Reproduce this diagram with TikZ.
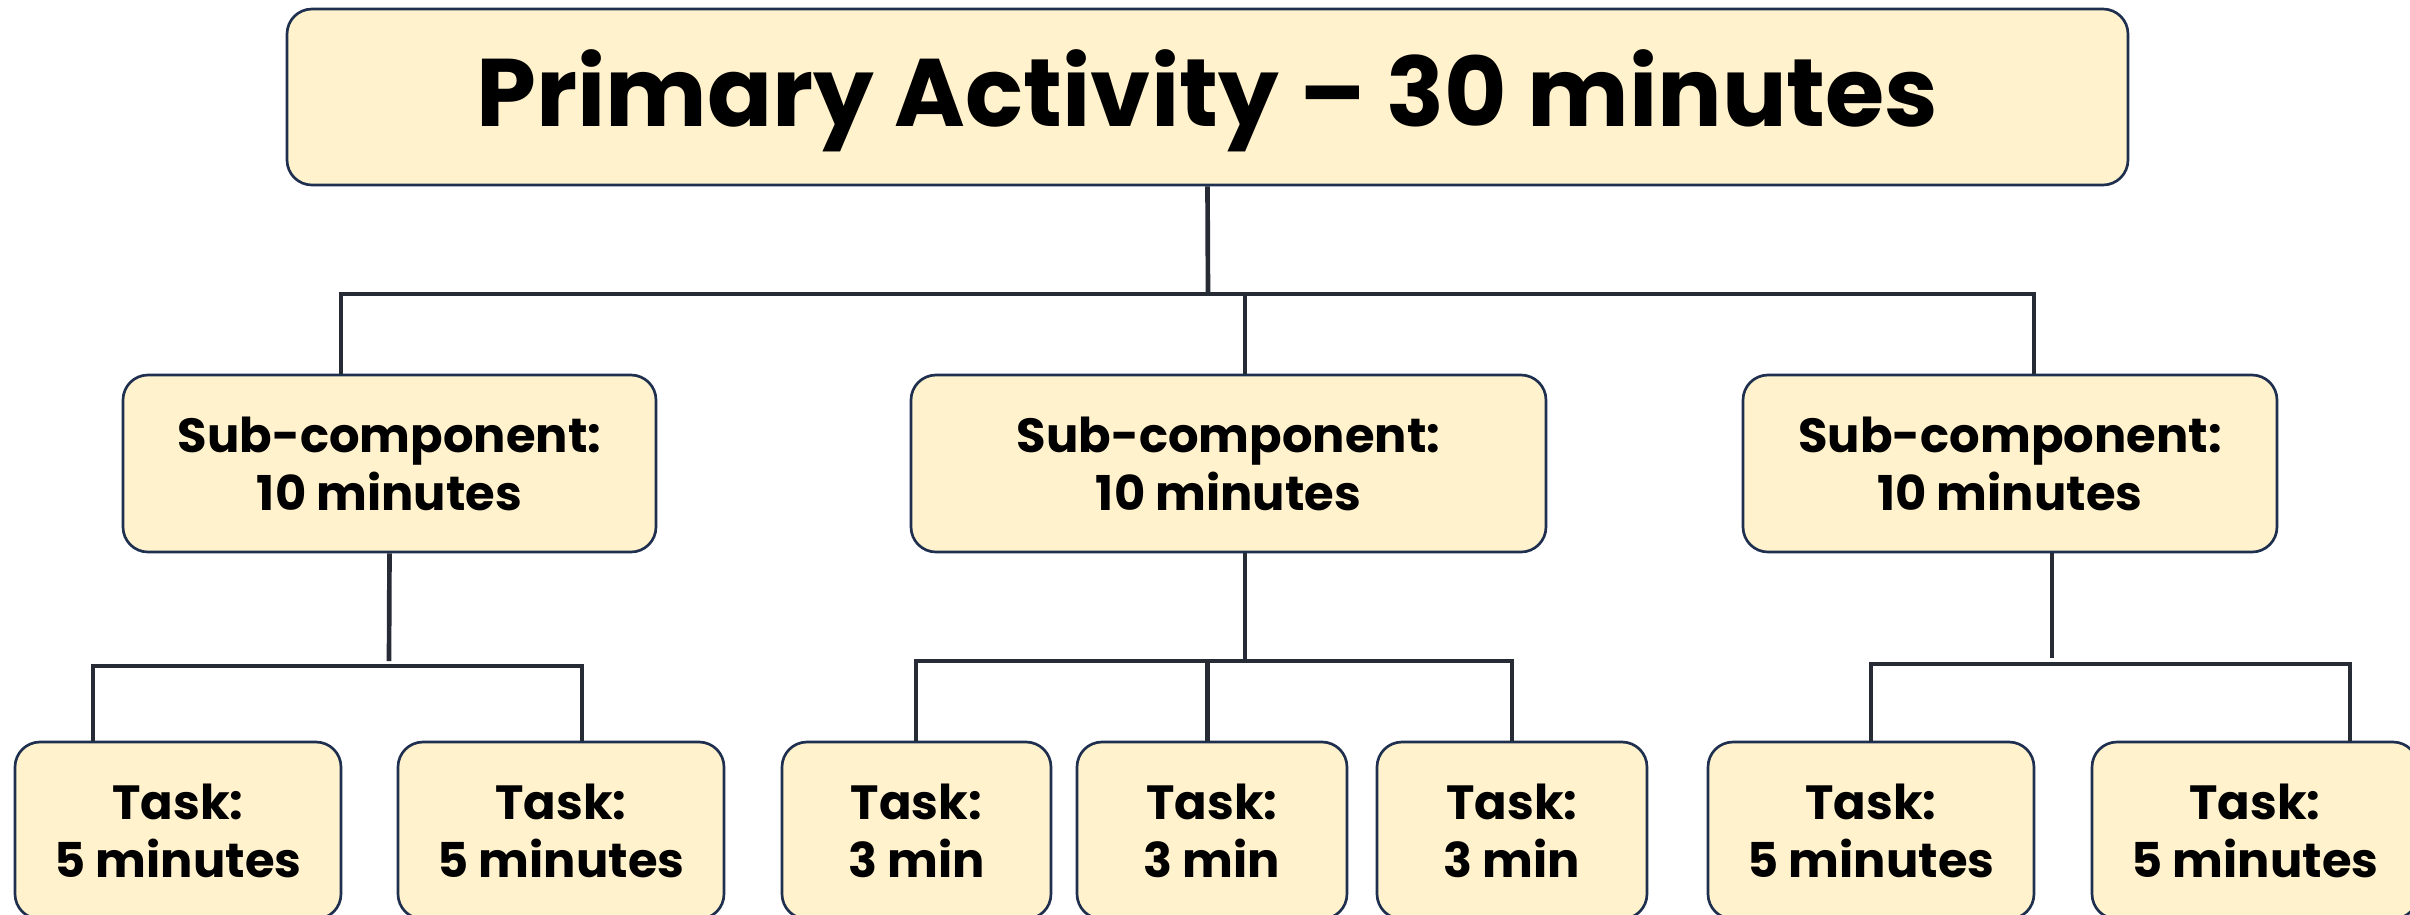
\documentclass[tikz,border=0pt]{standalone}
\usepackage{fontspec}
\setmainfont{Poppins}
\definecolor{boxfill}{HTML}{FFF2CC}
\definecolor{boxline}{HTML}{1E2F4F}
\definecolor{linkc}{HTML}{262B36}
\begin{document}
\begin{tikzpicture}[x=0.3pt,y=-0.3pt,
  box/.style={draw=boxline, line width=0.8pt, fill=boxfill, rounded corners=7.5pt,
    align=center, inner sep=0pt, minimum height=53.1pt,
    font=\bfseries\fontsize{14.4}{17.4}\selectfont},
  titlebox/.style={box, minimum width=552.3pt, minimum height=52.8pt,
    font=\bfseries\fontsize{28.8}{34}\selectfont},
  subbox/.style={box},
  taskbox/.style={box},
  link/.style={draw=linkc, line width=1.4pt}]
\useasboundingbox (0,0) rectangle (2410,914);
% nodes
\node[titlebox] (top) at (1207.5,97) {\raisebox{-1.2pt}[\height][\depth]{Primary Activity – 30 minutes}};
\node[subbox, minimum width=159.9pt] (s1) at (389.5,463.5) {Sub-component:\\10 minutes};
\node[subbox, minimum width=190.5pt] (s2) at (1228.5,463.5) {Sub-component:\\10 minutes};
\node[subbox, minimum width=160.2pt] (s3) at (2010,463.5) {Sub-component:\\10 minutes};
\node[taskbox, minimum width=97.8pt] (k1) at (178,830.5) {Task:\\5 minutes};
\node[taskbox, minimum width=97.8pt] (k2) at (561,830.5) {Task:\\5 minutes};
\node[taskbox, minimum width=80.7pt] (k3) at (916.5,830.5) {Task:\\3 min};
\node[taskbox, minimum width=81pt] (k4) at (1212,830.5) {Task:\\3 min};
\node[taskbox, minimum width=81pt] (k5) at (1512,830.5) {Task:\\3 min};
\node[taskbox, minimum width=97.8pt] (k6) at (1871,830.5) {Task:\\5 minutes};
\node[taskbox, minimum width=97.8pt] (k7) at (2255,830.5) {Task:\\5 minutes};
% junction coordinates
\coordinate (t0) at (1208,294);
\coordinate (bL) at (341,294);
\coordinate (bM) at (1245,294);
\coordinate (bR) at (2034,294);
\coordinate (s1j) at (389,661);
\coordinate (a1) at (93,666);
\coordinate (a2) at (582,666);
\coordinate (s2j) at (1245,661);
\coordinate (c1) at (916,661);
\coordinate (c2) at (1207.5,661);
\coordinate (c3) at (1512,661);
\coordinate (s3j) at (2052,658);
\coordinate (d1) at (1871,664);
\coordinate (d2) at (2350,664);
% level 1
\draw[link] (top.south) -- (t0);
\draw[link] (bL |- s1.north) -- (bL) -- (bR) -- (bR |- s3.north);
\draw[link] (bM) -- (bM |- s2.north);
% sub 1
\draw[link] (s1.south) -- (s1j);
\draw[link] (a1 |- k1.north) -- (a1) -- (a2) -- (a2 |- k2.north);
% sub 2
\draw[link] (s2j |- s2.south) -- (s2j);
\draw[link] (c1 |- k3.north) -- (c1) -- (c3) -- (c3 |- k5.north);
\draw[link] (c2) -- (c2 |- k4.north);
% sub 3
\draw[link] (s3j |- s3.south) -- (s3j);
\draw[link] (d1 |- k6.north) -- (d1) -- (d2) -- (d2 |- k7.north);
\end{tikzpicture}
\end{document}
